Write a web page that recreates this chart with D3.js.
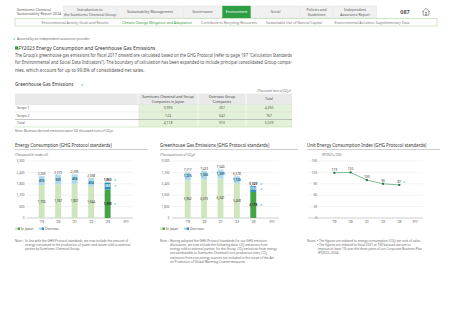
<!DOCTYPE html>
<html>
<head>
<meta charset="utf-8">
<script src="https://cdn.jsdelivr.net/npm/d3@7"></script>
<style>
  body { margin: 0; background: #fff; }
  svg { display: block; font-family: "Noto Sans", sans-serif; }
</style>
</head>
<body>
<div id="page"></div>
<script>
// ---- data ----
const years = ["’19", "’20", "’21", "’22", "’23"];

const energyJapan = [1730, 1767, 1801, 1644, 1498];
const energyOverseas = [470, 505, 494, 454, 365];
const energyTotal = [2200, 2272, 2295, 2098, 1863];
const energyTicks = [0, 600, 1200, 1800, 2400, 3000];

const ghgJapan = [5962, 6073, 6241, 5458, 4118];
const ghgOverseas = [1255, 1350, 1399, 1120, 910];
const ghgTotal = [7217, 7423, 7640, 6578, 5029];
const ghgTicks = [0, 1800, 3600, 5400, 7200, 9000];

const indexValues = [119, 120, 100, 90, 87];
const indexTicks = [0, 30, 60, 90, 120, 150];

const scopeRows = ["Scope 1", "Scope 2", "Total"];
const scopeJapan = [3993, 124, 4118];
const scopeOverseas = [267, 642, 910];
const scopeTotal = [4260, 767, 5029];

const navTabs = [
  ["Introduction to", "the Sumitomo Chemical Group"],
  ["Sustainability Management"],
  ["Governance"],
  ["Environment"],
  ["Social"],
  ["Policies and", "Guidelines"],
  ["Independent", "Assurance Report"]
];
const subNav = [
  "Environmental Activity Goals and Results",
  "Climate Change Mitigation and Adaptation",
  "Contribute to Recycling Resources",
  "Sustainable Use of Natural Capital",
  "Environmental Activities: Supplementary Data"
];

const W = 452, H = 320;
const fmt = d3.format(",");
const green = "#2e9e44", grid = "#dcdcdc";
const check = "✔";

const svg = d3.select("#page").append("svg")
  .attr("width", W).attr("height", H)
  .attr("viewBox", `0 0 ${W} ${H}`);

// ---- header ----
svg.append("text").attr("x", 17).attr("y", 10.5)
  .attr("font-size", 3.6).attr("fill", "#555")
  .selectAll("tspan").data(["Sumitomo Chemical", "Sustainability Report 2024"]).join("tspan")
  .attr("x", 17).attr("dy", (d, i) => i ? 4.2 : 0).text(d => d);

const tabEdges = [63, 117, 183, 222, 251, 300, 333, 377];
navTabs.forEach((lines, i) => {
  const x0 = tabEdges[i], x1 = tabEdges[i + 1];
  const active = lines[0] === "Environment";
  svg.append("rect").attr("x", x0 + 0.5).attr("y", 6).attr("width", x1 - x0 - 1).attr("height", 12)
    .attr("fill", active ? green : "#f1f1f1")
    .attr("stroke", active ? green : "#dcdcdc").attr("stroke-width", 0.4);
  const t = svg.append("text").attr("text-anchor", "middle")
    .attr("font-size", 3.6).attr("fill", active ? "#fff" : "#555");
  t.selectAll("tspan").data(lines).join("tspan")
    .attr("x", (x0 + x1) / 2)
    .attr("y", (d, j) => lines.length === 1 ? 13.3 : 11.4 + j * 4.1)
    .text(d => d);
});
svg.append("text").attr("x", 405).attr("y", 14).attr("text-anchor", "middle")
  .attr("font-size", 5.5).attr("font-weight", "bold").attr("fill", "#555").text("087");
// home icon
svg.append("path").attr("d", "M422,12 L426,8.3 L430,12 M423.2,11 L423.2,15.2 L428.8,15.2 L428.8,11")
  .attr("fill", "none").attr("stroke", "#666").attr("stroke-width", 0.6);
svg.append("rect").attr("x", 425.2).attr("y", 12.6).attr("width", 1.6).attr("height", 2.6)
  .attr("fill", "none").attr("stroke", "#666").attr("stroke-width", 0.4);

// sub navigation
svg.append("rect").attr("x", 15).attr("y", 18.5).attr("width", 422).attr("height", 7.5)
  .attr("fill", "#fff").attr("stroke", "#9fd08a").attr("stroke-width", 0.5);
const subX = [75, 157, 229, 294, 372];
svg.selectAll("text.sub").data(subNav).join("text").attr("class", "sub")
  .attr("x", (d, i) => subX[i]).attr("y", 23.6).attr("text-anchor", "middle")
  .attr("font-size", 3.5)
  .attr("fill", (d, i) => i === 1 ? green : "#777")
  .text(d => d);

// assured note
svg.append("text").attr("x", 13).attr("y", 39.6).attr("font-size", 3.3).attr("fill", "#26a69a").text(check);
svg.append("text").attr("x", 17).attr("y", 39.6).attr("font-size", 3.3).attr("fill", "#666")
  .text("Assured by an independent assurance provider");

// section title
svg.append("rect").attr("x", 15).attr("y", 46.4).attr("width", 3.2).attr("height", 3.2).attr("fill", green);
svg.append("text").attr("x", 18.6).attr("y", 49.7).attr("font-size", 4.8).attr("fill", "#333")
  .text("FY2023 Energy Consumption and Greenhouse Gas Emissions");

const para = [
  "The Group’s greenhouse gas emissions for fiscal 2017 onward are calculated based on the GHG Protocol (refer to page 197 “Calculation Standards",
  "for Environmental and Social Data Indicators”). The boundary of calculation has been expanded to include principal consolidated Group compa-",
  "nies, which account for up to 99.8% of consolidated net sales."
];
svg.selectAll("text.para").data(para).join("text").attr("class", "para")
  .attr("x", 15).attr("y", (d, i) => 56.5 + i * 7.6)
  .attr("font-size", 4.5).attr("fill", "#555")
  .attr("textLength", (d, i) => i < 2 ? 277 : null)
  .attr("lengthAdjust", "spacingAndGlyphs")
  .text(d => d);

// ---- table ----
svg.append("text").attr("x", 15).attr("y", 85.5).attr("font-size", 4.6).attr("fill", "#333")
  .text("Greenhouse Gas Emissions");
svg.append("text").attr("x", 81).attr("y", 85.5).attr("font-size", 3.4).attr("fill", "#26a69a").text(check);
svg.append("text").attr("x", 291).attr("y", 92).attr("text-anchor", "end")
  .attr("font-size", 3.2).attr("fill", "#777").attr("font-style", "italic")
  .text("(Thousand tons of CO₂e)");

const cols = [15, 138, 198, 246, 292];
const rowY = d3.scaleBand().domain(scopeRows).range([104.5, 127]);
svg.append("rect").attr("x", cols[0]).attr("y", 93.5).attr("width", cols[4] - cols[0]).attr("height", 11)
  .attr("fill", "#e9e9e9");
const headers = [["Sumitomo Chemical and Group", "Companies in Japan"], ["Overseas Group", "Companies"], ["Total"]];
headers.forEach((lines, i) => {
  svg.append("text").attr("text-anchor", "middle").attr("font-size", 3.5).attr("fill", "#444")
    .selectAll("tspan").data(lines).join("tspan")
    .attr("x", (cols[i + 1] + cols[i + 2]) / 2)
    .attr("y", (d, j) => lines.length === 1 ? 100.3 : 98.3 + j * 4.2)
    .text(d => d);
});
svg.selectAll("rect.cell").data(scopeRows).join("rect").attr("class", "cell")
  .attr("x", cols[1]).attr("y", d => rowY(d)).attr("width", cols[4] - cols[1]).attr("height", rowY.bandwidth())
  .attr("fill", "#e4f1da");
[cols[1], cols[2], cols[3]].forEach(x => svg.append("line")
  .attr("x1", x).attr("x2", x).attr("y1", 93.5).attr("y2", 127).attr("stroke", "#fff").attr("stroke-width", 0.8));
svg.selectAll("line.rowline").data(scopeRows).join("line").attr("class", "rowline")
  .attr("x1", cols[0]).attr("x2", cols[4])
  .attr("y1", d => rowY(d)).attr("y2", d => rowY(d))
  .attr("stroke", d => d === "Total" ? "#888" : "#c9c9c9")
  .attr("stroke-width", d => d === "Total" ? 0.5 : 0.3);
svg.append("line").attr("x1", cols[0]).attr("x2", cols[4]).attr("y1", 127).attr("y2", 127)
  .attr("stroke", "#9fd08a").attr("stroke-width", 0.4);
scopeRows.forEach((r, i) => {
  const y = rowY(r) + rowY.bandwidth() / 2 + 1.2;
  svg.append("text").attr("x", 17).attr("y", y).attr("font-size", 3.4).attr("fill", "#555").text(r);
  [scopeJapan[i], scopeOverseas[i], scopeTotal[i]].forEach((v, k) => {
    svg.append("text").attr("x", (cols[k + 1] + cols[k + 2]) / 2).attr("y", y)
      .attr("text-anchor", "middle").attr("font-size", 3.4).attr("fill", "#555").text(fmt(v));
  });
});
svg.append("text").attr("x", 15).attr("y", 131.5).attr("font-size", 3.2).attr("fill", "#666")
  .text("Note: Biomass-derived emissions were 0.6 thousand tons of CO₂e.");

// ---- charts ----
const yTop = 161, yBase = 218;
const colJapan = ["#cfe6bd", "#45a443"], colOver = ["#addaea", "#2a8cba"];

function chartTitle(x0, x1, title, unit, unitX) {
  svg.append("text").attr("x", x0).attr("y", 147).attr("font-size", 4.4).attr("fill", "#333").text(title);
  svg.append("line").attr("x1", x0).attr("x2", x1).attr("y1", 149.5).attr("y2", 149.5)
    .attr("stroke", "#888").attr("stroke-width", 0.4);
  svg.append("text").attr("x", unitX).attr("y", 155.5).attr("font-size", 3.1).attr("fill", "#666").text(unit);
}

function yAxisGrid(y, ticks, gx0, gx1, labelX) {
  const g = svg.append("g");
  g.selectAll("line").data(ticks).join("line")
    .attr("x1", gx0).attr("x2", gx1).attr("y1", d => y(d)).attr("y2", d => y(d))
    .attr("stroke", d => d === 0 ? "#999" : grid).attr("stroke-width", d => d === 0 ? 0.5 : 0.35);
  g.selectAll("text").data(ticks).join("text")
    .attr("x", labelX).attr("y", d => y(d) + 1.1).attr("text-anchor", "end")
    .attr("font-size", 3.1).attr("fill", "#666").text(d => fmt(d));
}

function xLabels(x, fyX) {
  svg.append("g").selectAll("text").data(years).join("text")
    .attr("x", d => x(d) + (x.bandwidth ? x.bandwidth() / 2 : 0)).attr("y", 223.3)
    .attr("text-anchor", "middle").attr("font-size", 3.4).attr("fill", "#444").text(d => d);
  svg.append("text").attr("x", fyX).attr("y", 223.3).attr("text-anchor", "middle")
    .attr("font-size", 3.1).attr("fill", "#666").text("(FY)");
}

function legend(x0) {
  const items = [["In Japan", colJapan], ["Overseas", colOver]];
  let x = x0;
  items.forEach(([label, c]) => {
    svg.append("rect").attr("x", x).attr("y", 227.5).attr("width", 2.4).attr("height", 2.4).attr("fill", c[0]);
    svg.append("rect").attr("x", x + 2.6).attr("y", 227.5).attr("width", 2.4).attr("height", 2.4).attr("fill", c[1]);
    svg.append("text").attr("x", x + 6).attr("y", 229.9).attr("font-size", 3.2).attr("fill", "#555").text(label);
    x += 24;
  });
}

function stackedBars(x, y, jp, ov, tot) {
  const g = svg.append("g");
  const last = years.length - 1;
  const bw = x.bandwidth();
  g.selectAll("rect.jp").data(years).join("rect").attr("class", "jp")
    .attr("x", d => x(d)).attr("width", bw)
    .attr("y", (d, i) => y(jp[i])).attr("height", (d, i) => y(0) - y(jp[i]))
    .attr("fill", (d, i) => colJapan[i === last ? 1 : 0]);
  g.selectAll("rect.ov").data(years).join("rect").attr("class", "ov")
    .attr("x", d => x(d)).attr("width", bw)
    .attr("y", (d, i) => y(jp[i] + ov[i])).attr("height", (d, i) => y(jp[i]) - y(jp[i] + ov[i]))
    .attr("fill", (d, i) => colOver[i === last ? 1 : 0]);
  const lab = (cls, vals, yf, col, weight) => g.selectAll("text." + cls).data(years).join("text").attr("class", cls)
    .attr("x", d => x(d) + bw / 2).attr("y", (d, i) => yf(i))
    .attr("text-anchor", "middle").attr("font-size", 3.1)
    .attr("font-weight", (d, i) => i === last ? "bold" : weight)
    .attr("fill", (d, i) => col(i))
    .text((d, i) => fmt(vals[i]));
  lab("tj", jp, i => (y(0) + y(jp[i])) / 2 + 1.1, i => "#333", "normal");
  lab("to", ov, i => (y(jp[i]) + y(jp[i] + ov[i])) / 2 + 1.1, i => i === last ? "#fff" : "#1d5f80", "bold");
  lab("tt", tot, i => y(tot[i]) - 1.3, i => "#333", "normal");
  const cx = x(years[last]) + bw / 2;
  [(y(0) + y(jp[last])) / 2, (y(jp[last]) + y(jp[last] + ov[last])) / 2, y(tot[last]) - 2.4].forEach(yy => {
    g.append("text").attr("x", cx + 6.8).attr("y", yy + 1.1).attr("font-size", 2.8)
      .attr("fill", "#26a69a").text(check);
  });
}

// chart 1: energy
chartTitle(15, 148, "Energy Consumption (GHG Protocol standards)", "(Thousand kl crude oil)", 15);
const y1 = d3.scaleLinear().domain([0, 3000]).range([yBase, yTop]);
const x1 = d3.scaleBand().domain(years).range([33.4, 115.9]).paddingInner(0.64).paddingOuter(0.32);
yAxisGrid(y1, energyTicks, 27, 133, 24.5);
stackedBars(x1, y1, energyJapan, energyOverseas, energyTotal);
xLabels(x1, 126);
legend(15);

// chart 2: GHG
chartTitle(160, 298, "Greenhouse Gas Emissions (GHG Protocol standards)", "(Thousand tons of CO₂e)", 160);
const y2 = d3.scaleLinear().domain([0, 9000]).range([yBase, yTop]);
const x2 = d3.scaleBand().domain(years).range([179.5, 261.5]).paddingInner(0.64).paddingOuter(0.32);
yAxisGrid(y2, ghgTicks, 172, 279, 169.5);
stackedBars(x2, y2, ghgJapan, ghgOverseas, ghgTotal);
xLabels(x2, 272);
legend(160);

// chart 3: index line
chartTitle(307, 440, "Unit Energy Consumption Index (GHG Protocol standards)", "(FY2021=100)", 322);
const y3 = d3.scaleLinear().domain([0, 150]).range([yBase, yTop]);
const x3 = d3.scalePoint().domain(years).range([334.3, 399.3]);
yAxisGrid(y3, indexTicks, 308, 423, 317);
svg.append("path").datum(indexValues)
  .attr("d", d3.line().x((d, i) => x3(years[i])).y(d => y3(d)))
  .attr("fill", "none").attr("stroke", "#2e8b57").attr("stroke-width", 0.6);
svg.selectAll("rect.pt").data(indexValues).join("rect").attr("class", "pt")
  .attr("x", (d, i) => x3(years[i]) - 1).attr("y", d => y3(d) - 1)
  .attr("width", 2).attr("height", 2).attr("fill", "#1f6e45");
svg.selectAll("text.pl").data(indexValues).join("text").attr("class", "pl")
  .attr("x", (d, i) => x3(years[i])).attr("y", d => y3(d) - 2.2)
  .attr("text-anchor", "middle").attr("font-size", 3.2).attr("fill", "#333").text(d => d);
svg.append("text").attr("x", x3(years[4]) + 4).attr("y", y3(87) - 2.2).attr("font-size", 2.8)
  .attr("fill", "#26a69a").text(check);
xLabels(x3, 415);

// ---- notes ----
function note(x, y, head, lines, indent) {
  const t = svg.append("text").attr("font-size", 3.1).attr("fill", "#666");
  t.append("tspan").attr("x", x).attr("y", y).text(head);
  lines.forEach((l, i) => t.append("tspan").attr("x", x + indent).attr("y", y + i * 4.3).text(l));
}
note(15, 241.5, "Note :", [
  "In line with the GHG Protocol standards, we now include the amount of",
  "energy consumed in the production of power and steam sold to external",
  "parties by Sumitomo Chemical Group."
], 10);
note(160, 241.5, "Note :", [
  "Having adopted the GHG Protocol standards for our GHG emission",
  "disclosures, we now include the following data: CO₂ emissions from",
  "energy sold to external parties; for the Group, CO₂ emissions from energy",
  "use attributable to Sumitomo Chemical’s non-production sites; CO₂",
  "emissions from non-energy sources not included in the scope of the Act",
  "on Promotion of Global Warming Countermeasures."
], 10);
note(307, 241.5, "Notes :", [
  "• The figures are indexed to energy consumption (CO₂) per unit of sales.",
  "• The figures are indexed to fiscal 2021 at 100 because we aim to",
  "  improve at least 1% over the three years of our Corporate Business Plan",
  "  (FY2022–2024)."
], 10);
</script>
</body>
</html>
